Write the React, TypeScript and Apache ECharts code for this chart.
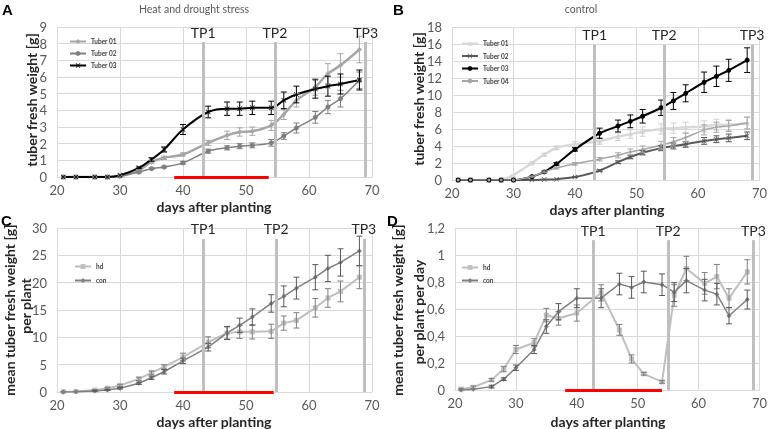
import React, { useEffect, useRef } from "react";
import * as echarts from "echarts";

const days = [21, 23, 26, 28, 30, 33, 35, 37, 40, 44, 47, 49, 51, 54, 56, 58, 61, 63, 65, 68];

// Panel A – heat and drought stress
const A_t01 = [0, 0, 0, 0, 0.05, 0.4, 0.9, 1.15, 1.35, 2.05, 2.5, 2.7, 2.75, 3.1, 3.75, 4.6, 5.4, 6.2, 6.7, 7.65];
const A_t02 = [0, 0, 0, 0, 0.05, 0.3, 0.5, 0.6, 0.85, 1.55, 1.75, 1.85, 1.9, 2.05, 2.46, 2.94, 3.58, 4.2, 4.7, 5.8];
const A_t03 = [0, 0, 0, 0, 0.1, 0.55, 1.05, 1.65, 2.85, 3.9, 4.1, 4.1, 4.15, 4.15, 4.6, 4.95, 5.28, 5.45, 5.58, 5.82];
const A_t01_err = [0, 0, 0, 0, 0, 0.05, 0.1, 0.1, 0.1, 0.15, 0.25, 0.25, 0.25, 0.3, 0.3, 0.4, 0.5, 0.6, 0.7, 0.8];
const A_t02_err = [0, 0, 0, 0, 0, 0.05, 0.05, 0.05, 0.08, 0.12, 0.12, 0.15, 0.15, 0.2, 0.2, 0.3, 0.35, 0.4, 0.5, 0.5];
const A_t03_err = [0, 0, 0, 0, 0, 0.05, 0.1, 0.15, 0.3, 0.35, 0.4, 0.4, 0.4, 0.4, 0.5, 0.5, 0.55, 0.6, 0.6, 0.6];

// Panel B – control
const B_t01 = [0, 0, 0, 0, 0.6, 2.0, 3.0, 3.8, 4.2, 4.6, 5.1, 5.4, 5.7, 6.0, 6.1, 6.2, 6.3, 6.5, 6.5, 6.7];
const B_t02 = [0, 0, 0, 0, 0, 0, 0.05, 0.1, 0.35, 1.1, 2.1, 2.7, 3.2, 3.75, 4.0, 4.2, 4.6, 4.8, 4.95, 5.2];
const B_t03 = [0, 0, 0, 0, 0, 0.4, 0.95, 1.9, 3.6, 5.5, 6.35, 6.9, 7.5, 8.5, 9.3, 10.2, 11.5, 12.2, 12.9, 14.1];
const B_t04 = [0, 0, 0, 0, 0, 0.4, 0.95, 1.4, 1.9, 2.45, 2.9, 3.3, 3.6, 4.1, 4.5, 5.0, 5.9, 6.2, 6.35, 6.7];
const B_t01_err = [0, 0, 0, 0, 0, 0.1, 0.15, 0.2, 0.3, 0.4, 0.45, 0.5, 0.55, 0.6, 0.6, 0.6, 0.65, 0.65, 0.65, 0.7];
const B_t02_err = [0, 0, 0, 0, 0, 0, 0, 0, 0.05, 0.1, 0.15, 0.2, 0.25, 0.3, 0.35, 0.35, 0.4, 0.4, 0.45, 0.45];
const B_t03_err = [0, 0, 0, 0, 0, 0.05, 0.1, 0.15, 0.2, 0.6, 0.7, 0.75, 0.8, 0.9, 1.0, 1.0, 1.2, 1.2, 1.3, 1.45];
const B_t04_err = [0, 0, 0, 0, 0, 0.05, 0.1, 0.1, 0.15, 0.2, 0.3, 0.35, 0.4, 0.45, 0.5, 0.5, 0.6, 0.6, 0.65, 0.7];

// Panel C – mean tuber fresh weight per plant
const C_hd = [0.05, 0.1, 0.35, 0.7, 1.2, 2.4, 3.5, 4.6, 6.4, 9.1, 10.8, 11.0, 11.0, 11.1, 12.6, 13.1, 15.4, 17.2, 18.4, 21.0];
const C_con = [0, 0.05, 0.2, 0.35, 0.7, 1.6, 2.6, 3.7, 5.7, 8.2, 10.8, 12.2, 13.7, 16.2, 17.5, 19.0, 21.0, 22.6, 23.7, 25.8];
const C_hd_err = [0.05, 0.05, 0.1, 0.15, 0.2, 0.3, 0.35, 0.4, 0.7, 1.0, 1.1, 1.2, 1.3, 1.3, 1.3, 1.4, 1.7, 1.7, 1.9, 2.1];
const C_con_err = [0, 0, 0.05, 0.1, 0.15, 0.2, 0.3, 0.4, 0.5, 0.7, 1.2, 1.3, 1.5, 1.6, 1.9, 2.0, 2.3, 2.4, 2.5, 2.7];

// Panel D – per plant per day
const D_hd = [0.007, 0.02, 0.075, 0.155, 0.3, 0.35, 0.555, 0.53, 0.57, 0.72, 0.445, 0.23, 0.12, 0.06, 0.7, 0.9, 0.79, 0.84, 0.68, 0.875];
const D_con = [0, 0.005, 0.025, 0.08, 0.165, 0.3, 0.47, 0.58, 0.68, 0.68, 0.785, 0.76, 0.8, 0.78, 0.725, 0.81, 0.74, 0.71, 0.55, 0.67];
const D_hd_err = [0.005, 0.01, 0.01, 0.02, 0.03, 0.03, 0.05, 0.05, 0.06, 0.06, 0.04, 0.03, 0.01, 0.01, 0.08, 0.09, 0.08, 0.09, 0.07, 0.09];
const D_con_err = [0, 0, 0.01, 0.01, 0.02, 0.03, 0.05, 0.06, 0.07, 0.07, 0.08, 0.08, 0.08, 0.08, 0.07, 0.09, 0.08, 0.08, 0.06, 0.07];

// Time points & stress period
const TP_labels = ["TP1", "TP2", "TP3"];
const TP_A = [43.2, 54.6, 69.0];
const TP_B = [43.2, 54.5, 68.8];
const TP_C = [43.2, 54.8, 68.7];
const TP_D = [42.7, 55.0, 69.0];
const stress_A = [38.6, 53.6];
const stress_C = [38.6, 54.4];
const stress_D = [38.1, 54.0];

const FONT = "Lato, 'Liberation Sans', sans-serif";
const XPATH = "path://M1,0L5,4L9,0L10,1L6,5L10,9L9,10L5,6L1,10L0,9L4,5L0,1Z";

function pairs(vals: number[]) {
  return days.map((d, i) => [d, vals[i]]);
}

function line(name: string, vals: number[], idx: number, color: string, width: number, symbol: string, size: number, smooth: number | boolean, extra: any = {}) {
  return {
    type: "line",
    name,
    xAxisIndex: idx,
    yAxisIndex: idx,
    data: pairs(vals),
    smooth,
    symbol,
    symbolSize: size,
    lineStyle: { color, width },
    itemStyle: { color },
    z: 3,
    ...extra,
  };
}

function errBars(vals: number[], errs: number[], idx: number, color: string) {
  return {
    type: "custom",
    xAxisIndex: idx,
    yAxisIndex: idx,
    silent: true,
    z: 4,
    encode: { x: 0, y: [1, 2] },
    data: days.map((d, i) => [d, vals[i] - errs[i], vals[i] + errs[i]]),
    renderItem: (params: any, api: any) => {
      const x = api.value(0);
      const lo = api.value(1);
      const hi = api.value(2);
      if (hi - lo < 1e-9) return null;
      const p1 = api.coord([x, lo]);
      const p2 = api.coord([x, hi]);
      const st = { stroke: color, lineWidth: 1 };
      return {
        type: "group",
        children: [
          { type: "line", shape: { x1: p1[0], y1: p1[1], x2: p2[0], y2: p2[1] }, style: st },
          { type: "line", shape: { x1: p1[0] - 3, y1: p1[1], x2: p1[0] + 3, y2: p1[1] }, style: st },
          { type: "line", shape: { x1: p2[0] - 3, y1: p2[1], x2: p2[0] + 3, y2: p2[1] }, style: st },
        ],
      };
    },
  };
}

function marks(tps: number[], top: number, stress: number[] | null) {
  const data: any[] = tps.map((t, i) => [
    {
      coord: [t, 0],
      lineStyle: { color: "#bfbfbf", width: 3, type: "solid" },
      label: { show: true, position: "end", formatter: TP_labels[i], color: "#262626", fontSize: 14, fontFamily: FONT, distance: 3 },
    },
    { coord: [t, top] },
  ]);
  if (stress) {
    data.push([
      { coord: [stress[0], 0], lineStyle: { color: "#ff0000", width: 3, type: "solid" }, label: { show: false } },
      { coord: [stress[1], 0] },
    ]);
  }
  return { silent: true, symbol: ["none", "none"], animation: false, data };
}

const grids = [
  { left: 57, top: 27, width: 315, height: 150 },
  { left: 452, top: 27, width: 311, height: 153 },
  { left: 57, top: 228, width: 315, height: 164 },
  { left: 455, top: 228, width: 307, height: 162 },
];
const yRanges = [
  { max: 9, interval: 1 },
  { max: 18, interval: 2 },
  { max: 30, interval: 5 },
  { max: 1.2, interval: 0.2 },
];

export default function App() {
  const ref = useRef<HTMLDivElement>(null);
  useEffect(() => {
    if (!ref.current) return;
    const chart = echarts.init(ref.current, null, { renderer: "svg" });
    const axisLabel = { color: "#595959", fontSize: 13, fontFamily: FONT };
    const split = { show: true, lineStyle: { color: "#d9d9d9", width: 1 } };

    const legendBase = {
      orient: "vertical",
      itemWidth: 16,
      itemHeight: 6,
      textStyle: { fontSize: 6.5, fontWeight: "bold", color: "#404040", fontFamily: FONT },
      formatter: (n: string) => n.split("|")[1],
      selectedMode: false,
    };

    const titleStyle = { align: "center", verticalAlign: "middle", fontSize: 14, fontWeight: "bold", fontFamily: FONT, fill: "#262626" };
    const letterFont = "bold 15px 'Liberation Sans', Arial, sans-serif";

    const option: any = {
      animation: false,
      grid: grids,
      xAxis: grids.map((_, i) => ({
        gridIndex: i,
        type: "value",
        min: 20,
        max: 70,
        interval: 10,
        axisLine: { show: true, lineStyle: { color: "#d9d9d9" } },
        axisTick: { show: false },
        axisLabel: { ...axisLabel, margin: 6 },
        splitLine: split,
      })),
      yAxis: grids.map((_, i) => ({
        gridIndex: i,
        type: "value",
        min: 0,
        max: yRanges[i].max,
        interval: yRanges[i].interval,
        axisLine: { show: false },
        axisTick: { show: false },
        axisLabel: {
          ...axisLabel,
          margin: 10,
          formatter: (v: number) => String(Math.round(v * 10) / 10).replace(".", ","),
        },
        splitLine: split,
      })),
      legend: [
        { ...legendBase, left: 64, top: 33, itemGap: 5, data: ["A|Tuber 01", "A|Tuber 02", "A|Tuber 03"] },
        { ...legendBase, left: 456, top: 35, itemGap: 5.5, data: ["B|Tuber 01", "B|Tuber 02", "B|Tuber 03", "B|Tuber 04"] },
        { ...legendBase, left: 69, top: 258, itemGap: 7, data: ["C|hd", "C|con"] },
        { ...legendBase, left: 456, top: 259, itemGap: 6, data: ["D|hd", "D|con"] },
      ],
      graphic: [
        { type: "text", left: 2, top: 2, style: { text: "A", font: letterFont, fill: "#000" } },
        { type: "text", left: 393, top: 2, style: { text: "B", font: letterFont, fill: "#000" } },
        { type: "text", left: 1, top: 213, style: { text: "C", font: letterFont, fill: "#000" } },
        { type: "text", left: 387, top: 213, style: { text: "D", font: letterFont, fill: "#000" } },
        { type: "text", x: 194, y: 9, style: { text: "Heat and drought stress", align: "center", verticalAlign: "middle", fontSize: 10.5, fontFamily: FONT, fill: "#595959" } },
        { type: "text", x: 581, y: 9, style: { text: "control", align: "center", verticalAlign: "middle", fontSize: 10.5, fontFamily: FONT, fill: "#595959" } },
        { type: "text", x: 214, y: 206, style: { text: "days after planting", ...titleStyle } },
        { type: "text", x: 607, y: 209, style: { text: "days after planting", ...titleStyle } },
        { type: "text", x: 214, y: 421, style: { text: "days after planting", ...titleStyle } },
        { type: "text", x: 608, y: 421, style: { text: "days after planting", ...titleStyle } },
        { type: "text", x: 31, y: 100, rotation: Math.PI / 2, style: { text: "tuber fresh weight [g]", ...titleStyle } },
        { type: "text", x: 418, y: 99, rotation: Math.PI / 2, style: { text: "tuber fresh weight [g]", ...titleStyle } },
        { type: "text", x: 9, y: 310, rotation: Math.PI / 2, style: { text: "mean tuber fresh weight [g]", ...titleStyle } },
        { type: "text", x: 25, y: 306, rotation: Math.PI / 2, style: { text: "per plant", ...titleStyle } },
        { type: "text", x: 397, y: 310, rotation: Math.PI / 2, style: { text: "mean tuber fresh weight [g]", ...titleStyle } },
        { type: "text", x: 418, y: 312, rotation: Math.PI / 2, style: { text: "per plant per day", ...titleStyle } },
      ],
      series: [
        // A
        line("A|Tuber 01", A_t01, 0, "#a6a6a6", 2.5, "diamond", 5, 0.35, { markLine: marks(TP_A, 8.1, stress_A) }),
        line("A|Tuber 02", A_t02, 0, "#7f7f7f", 1.5, "circle", 5, 0.35),
        line("A|Tuber 03", A_t03, 0, "#000000", 2, XPATH, 5, 0.35),
        errBars(A_t01, A_t01_err, 0, "#a6a6a6"),
        errBars(A_t02, A_t02_err, 0, "#7f7f7f"),
        errBars(A_t03, A_t03_err, 0, "#000000"),
        // B
        line("B|Tuber 01", B_t01, 1, "#d9d9d9", 2.5, "triangle", 5, 0.25, { markLine: marks(TP_B, 15.9, null) }),
        line("B|Tuber 02", B_t02, 1, "#595959", 2, XPATH, 5, 0.25),
        line("B|Tuber 03", B_t03, 1, "#000000", 2, "circle", 5, 0.25),
        line("B|Tuber 04", B_t04, 1, "#a6a6a6", 1.5, "circle", 3, 0.25),
        errBars(B_t01, B_t01_err, 1, "#d0d0d0"),
        errBars(B_t02, B_t02_err, 1, "#595959"),
        errBars(B_t03, B_t03_err, 1, "#000000"),
        errBars(B_t04, B_t04_err, 1, "#a6a6a6"),
        // C
        line("C|hd", C_hd, 2, "#bfbfbf", 2, "rect", 5, false, { markLine: marks(TP_C, 28, stress_C) }),
        line("C|con", C_con, 2, "#7f7f7f", 1.5, "diamond", 5, false),
        errBars(C_hd, C_hd_err, 2, "#7f7f7f"),
        errBars(C_con, C_con_err, 2, "#595959"),
        // D
        line("D|hd", D_hd, 3, "#bfbfbf", 2, "rect", 5, false, { markLine: marks(TP_D, 1.11, stress_D) }),
        line("D|con", D_con, 3, "#7f7f7f", 1.5, "diamond", 5, false),
        errBars(D_hd, D_hd_err, 3, "#7f7f7f"),
        errBars(D_con, D_con_err, 3, "#595959"),
      ],
    };
    chart.setOption(option);
    return () => chart.dispose();
  }, []);
  return <div ref={ref} style={{ position: "fixed", left: 0, top: 0, width: 770, height: 429 }} />;
}
